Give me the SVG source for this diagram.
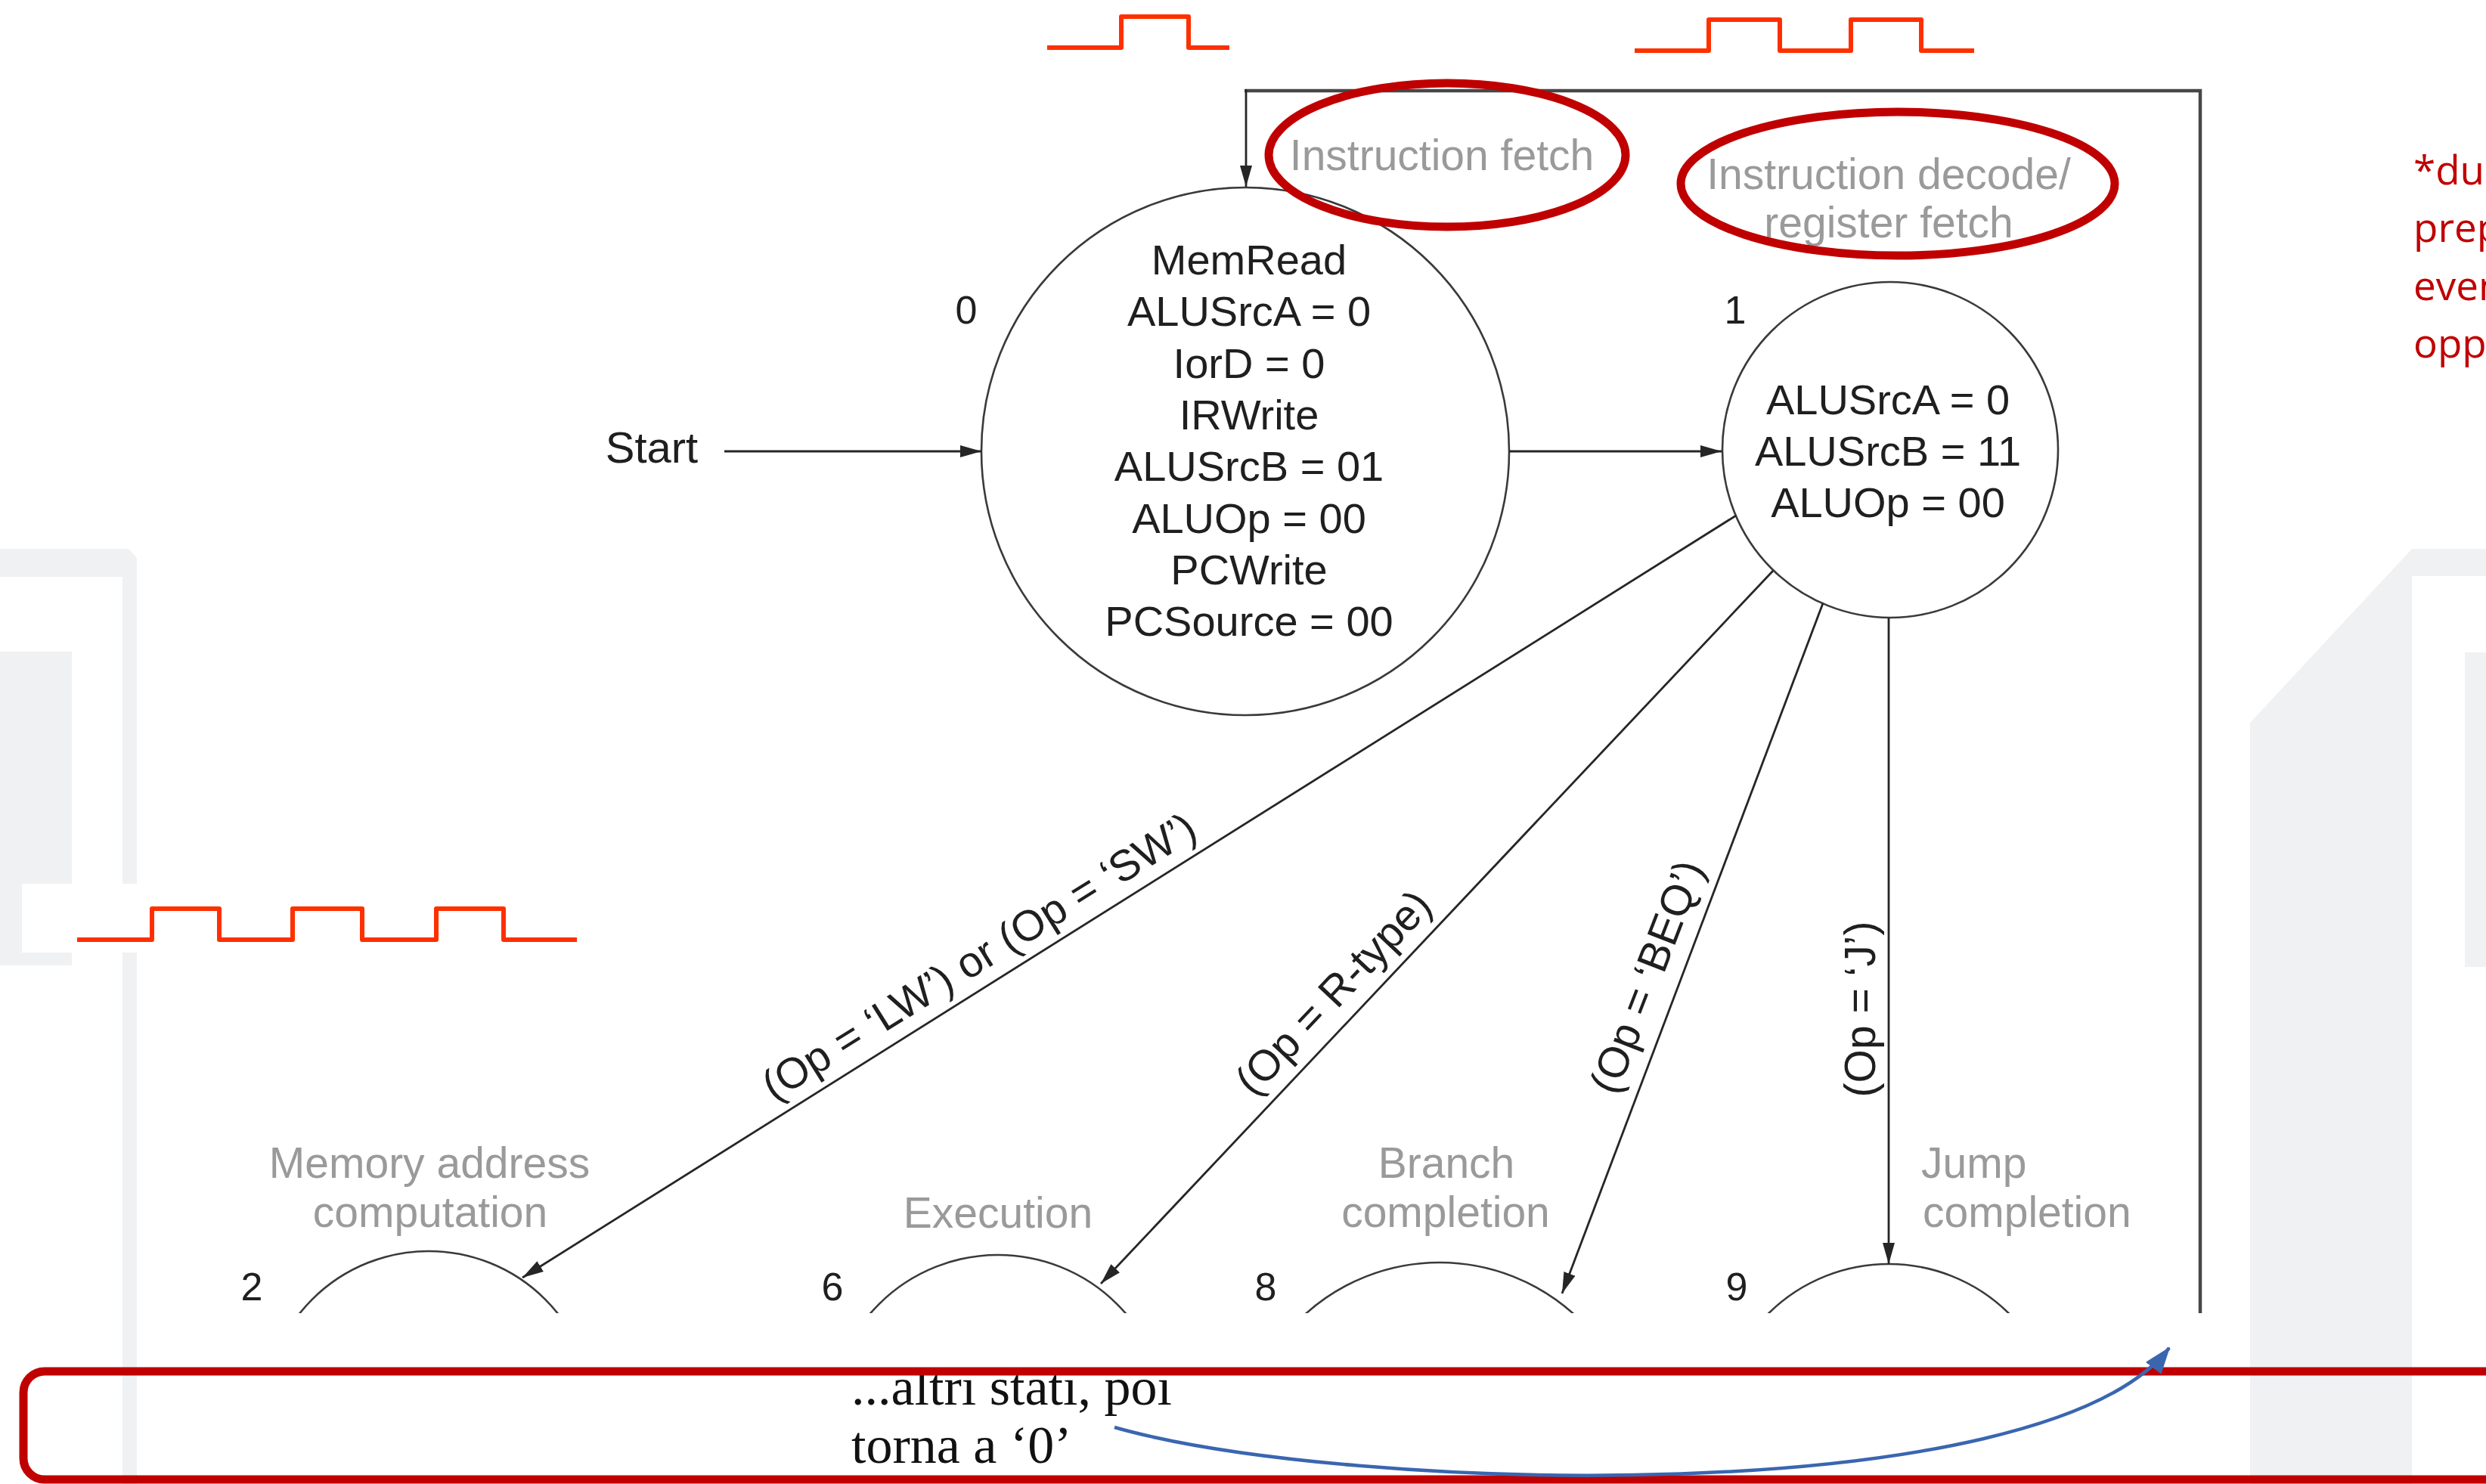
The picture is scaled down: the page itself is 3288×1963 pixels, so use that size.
<svg xmlns="http://www.w3.org/2000/svg" width="3288" height="1963" viewBox="0 0 3288 1963">
  <style>
    .bg{fill:#f0f1f3}
    .wave{fill:none;stroke:#ff3000;stroke-width:6;stroke-linejoin:round}
    .state{fill:#fff;stroke:#3a3a3a;stroke-width:2.6}
    .arc{fill:none;stroke:#3a3a3a;stroke-width:2.6}
    .st{font-family:"Liberation Sans",Arial,sans-serif;font-size:56px;fill:#1f1f1f;text-anchor:middle}
    .num{font-family:"Liberation Sans",Arial,sans-serif;font-size:52px;fill:#1f1f1f;text-anchor:middle}
    .phase{font-family:"Liberation Sans",Arial,sans-serif;font-size:57px;fill:#9a9a9a}
    .mid{text-anchor:middle}
    .cond{font-family:"Liberation Sans",Arial,sans-serif;font-size:57px;fill:#1f1f1f;text-anchor:middle}
    .edge{fill:none;stroke:#262626;stroke-width:2.8}
    .loop{fill:none;stroke:#474747;stroke-width:4.5}
    .mark{fill:none;stroke:#c00000;stroke-width:11}
    .note{font-family:"Liberation Serif","Times New Roman",serif;font-size:70px;fill:#111}
    .side{font-family:"Open Sans",sans-serif;font-size:53px;fill:#c00000}
  </style>
  <defs>
    <marker id="ah" markerUnits="userSpaceOnUse" markerWidth="28" markerHeight="16" viewBox="0 0 28 16" refX="28" refY="8" orient="auto">
      <path d="M0,0 L28,8 L0,16 Z" fill="#262626"/>
    </marker>
    <marker id="ahBlue" markerUnits="userSpaceOnUse" markerWidth="36" markerHeight="26" viewBox="0 0 36 26" refX="34" refY="13" orient="auto">
      <path d="M0,0 L36,13 L0,26 Z" fill="#3a66b0"/>
    </marker>
    <clipPath id="cut">
      <rect x="0" y="0" width="3288" height="1737"/>
    </clipPath>
  </defs>

  <rect width="3288" height="1963" fill="#fff"/>

  <!-- slide decoration -->
  <g id="decor">
    <path class="bg" d="M0,726 H170 L181,738 V1963 H162 V763 H0 Z"/>
    <rect class="bg" x="0" y="862" width="95" height="415"/>
    <rect fill="#fff" x="29" y="1169" width="800" height="91"/>
    <path class="bg" d="M2976,956 L3190,726 H3288 V762 H3190 V1963 H2976 Z"/>
    <rect class="bg" x="3260" y="863" width="28" height="416"/>
  </g>

  <!-- clock waveforms -->
  <g id="clocks">
    <path class="wave" d="M1385,63 H1483 V22 H1572 V63 H1626"/>
    <path class="wave" d="M2162,67 H2260 V26 H2354 V67 H2448 V26 H2541 V67 H2611"/>
    <path class="wave" d="M102,1243 H201 V1202 H290 V1243 H387 V1202 H479 V1243 H577 V1202 H666 V1243 H763"/>
  </g>

  <!-- phase titles -->
  <g id="phases">
    <text class="phase mid" x="1907" y="225">Instruction fetch</text>
    <text class="phase mid" x="2498" y="250">Instruction decode/</text>
    <text class="phase mid" x="2498" y="314">register fetch</text>
    <text class="phase mid" x="568" y="1558">Memory address</text>
    <text class="phase mid" x="569" y="1623">computation</text>
    <text class="phase mid" x="1320" y="1624">Execution</text>
    <text class="phase mid" x="1913" y="1558">Branch</text>
    <text class="phase mid" x="1912" y="1623">completion</text>
    <text class="phase" x="2541" y="1558">Jump</text>
    <text class="phase" x="2543" y="1623">completion</text>
  </g>

  <!-- states -->
  <g id="state0">
    <circle class="state" cx="1647" cy="597" r="349"/>
    <text class="num" x="1278" y="428">0</text>
    <text class="st" x="1652" y="363">MemRead</text>
    <text class="st" x="1652" y="431">ALUSrcA = 0</text>
    <text class="st" x="1652" y="500">IorD = 0</text>
    <text class="st" x="1652" y="568">IRWrite</text>
    <text class="st" x="1652" y="636">ALUSrcB = 01</text>
    <text class="st" x="1652" y="705">ALUOp = 00</text>
    <text class="st" x="1652" y="773">PCWrite</text>
    <text class="st" x="1652" y="841">PCSource = 00</text>
  </g>
  <g id="state1">
    <circle class="state" cx="2500" cy="595" r="222"/>
    <text class="num" x="2295" y="428">1</text>
    <text class="st" x="2497" y="548">ALUSrcA = 0</text>
    <text class="st" x="2497" y="616">ALUSrcB = 11</text>
    <text class="st" x="2497" y="684">ALUOp = 00</text>
  </g>
  <g id="state2">
    <circle class="arc" cx="567" cy="1873" r="218" clip-path="url(#cut)"/>
    <text class="num" x="333" y="1720">2</text>
  </g>
  <g id="state6">
    <circle class="arc" cx="1320" cy="1883" r="223" clip-path="url(#cut)"/>
    <text class="num" x="1101" y="1720">6</text>
  </g>
  <g id="state8">
    <circle class="arc" cx="1904" cy="1935" r="265" clip-path="url(#cut)"/>
    <text class="num" x="1674" y="1720">8</text>
  </g>
  <g id="state9">
    <circle class="arc" cx="2498" cy="1898" r="226" clip-path="url(#cut)"/>
    <text class="num" x="2297" y="1720">9</text>
  </g>

  <!-- transitions -->
  <g id="connectors">
    <text class="st" x="862" y="612" style="font-size:58px">Start</text>
    <path class="edge" d="M958,597 H1298" marker-end="url(#ah)"/>
    <path class="edge" d="M1996,597 H2277" marker-end="url(#ah)"/>
    <path class="loop" d="M2910,1737 V120 H1646"/>
    <path class="edge" d="M1648,118 V247" marker-end="url(#ah)"/>
    <path class="edge" d="M2296,682 L691,1690" marker-end="url(#ah)"/>
    <path class="edge" d="M2345,755 L1456,1698" marker-end="url(#ah)"/>
    <path class="edge" d="M2411,798 L2066,1711" marker-end="url(#ah)"/>
    <path class="edge" d="M2498,817 V1672" marker-end="url(#ah)"/>
    <text class="cond" transform="translate(1314,1296) rotate(-32)" y="-17">(Op = ‘LW’) or (Op = ‘SW’)</text>
    <text class="cond" transform="translate(1792,1340) rotate(-46.6)" y="-20">(Op = R-type)</text>
    <text class="cond" transform="translate(2217,1307) rotate(-68.9)" y="-22">(Op = ‘BEQ’)</text>
    <text class="cond" transform="translate(2498,1335) rotate(-90)" y="-18">(Op = ‘J’)</text>
  </g>

  <!-- annotations -->
  <g id="notes">
    <ellipse class="mark" cx="1914" cy="205" rx="236" ry="95"/>
    <ellipse class="mark" cx="2510" cy="243" rx="287" ry="95"/>
    <text class="note" x="1126" y="1858">...altri stati, poi</text>
    <text class="note" x="1126" y="1935">torna a ‘0’</text>
    <rect class="mark" x="31" y="1814" width="3320" height="143" rx="28"/>
    <path d="M1474,1888 C1780,1975 2700,2000 2869,1783" fill="none" stroke="#3a66b0" stroke-width="4.5" marker-end="url(#ahBlue)"/>
    <text class="side" x="3192" y="244">*du</text>
    <text class="side" x="3192" y="320">prep</text>
    <text class="side" x="3192" y="397">even</text>
    <text class="side" x="3192" y="473">opp</text>
  </g>
</svg>
